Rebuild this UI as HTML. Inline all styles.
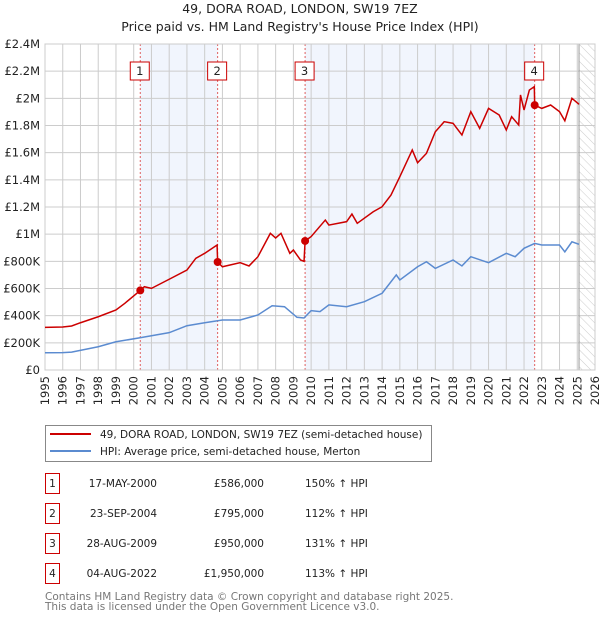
<!DOCTYPE html>
<html><head><meta charset="utf-8"><style>
body{margin:0;background:#fff;font-family:"DejaVu Sans","Liberation Sans",sans-serif;}
svg{display:block}
</style></head><body>
<svg width="600" height="620" viewBox="0 0 600 620" xmlns="http://www.w3.org/2000/svg" font-family="DejaVu Sans, Liberation Sans, sans-serif">
<g id="chart"></g>
</svg>
<script>
const years=[1995,1996,1996.5,1997,1998,1999,1999.5,2000.37,2000.6,2001,2002,2003,2003.5,2004,2004.7,2004.73,2005,2006,2006.5,2007,2007.7,2008,2008.3,2008.8,2009,2009.4,2009.6,2009.66,2010,2010.8,2011,2012,2012.3,2012.6,2013.5,2014,2014.5,2015,2015.7,2016,2016.5,2017,2017.5,2018,2018.5,2019,2019.5,2020,2020.6,2021,2021.3,2021.7,2021.8,2022,2022.3,2022.58,2022.6,2023,2023.5,2024,2024.3,2024.7,2025.1];
const priceSeries=[314,317,324,348,392,442,491,586,613,601,668,736,822,859,920,795,760,790,766,834,1006,972,1006,859,883,810,800,950,982,1104,1067,1092,1148,1080,1165,1202,1288,1423,1620,1526,1595,1754,1828,1816,1730,1902,1779,1926,1877,1767,1865,1804,2025,1914,2061,2086,1950,1926,1951,1902,1835,2000,1956];
const hpiYears=[1995,1996,1996.5,1998,1999,2000.4,2001,2002,2003,2004,2005,2006,2007,2007.8,2008.5,2009.2,2009.6,2010,2010.5,2011,2012,2013,2014,2014.8,2015,2016,2016.5,2017,2018,2018.5,2019,2020,2021,2021.5,2022,2022.6,2023,2024,2024.3,2024.7,2025.1];
const hpiSeries=[127,128,132,171,208,238,252,275,326,348,368,368,405,473,466,388,383,437,430,479,466,503,565,700,663,760,797,748,810,766,834,790,859,834,896,932,920,920,870,944,925];
const yTicks=[0,200,400,600,800,1000,1200,1400,1600,1800,2000,2200,2400];
const yTickLabels=["£0","£200K","£400K","£600K","£800K","£1M","£1.2M","£1.4M","£1.6M","£1.8M","£2M","£2.2M","£2.4M"];
const saleYears=[2000.37,2004.73,2009.66,2022.6];
const salePrices=[586,795,950,1950];
const saleLabels=["1","2","3","4"];
const NS="http://www.w3.org/2000/svg";
const X0=45,X1=595,Y0=370,Y1=44;
const xs=y=>X0+(y-1995)*(X1-X0)/31;
const ys=v=>Y0-v*(Y0-Y1)/2400;
const g=document.getElementById('chart');
function mk(t,a,p){const e=document.createElementNS(NS,t);for(const k in a)e.setAttribute(k,a[k]);(p||g).appendChild(e);return e;}
function txt(s,a){const e=mk('text',a);e.textContent=s;return e;}
let t1=txt("49, DORA ROAD, LONDON, SW19 7EZ",{x:300,y:13,'text-anchor':'middle','font-size':12.5,fill:'#222'});


let t2=txt("Price paid vs. HM Land Registry's House Price Index (HPI)",{x:300,y:31,'text-anchor':'middle','font-size':12.5,fill:'#222'});


let sh1=mk('rect',{x:xs(saleYears[0]),y:Y1,width:xs(saleYears[1])-xs(saleYears[0]),height:Y0-Y1,fill:'#eef3fc',opacity:0.8});


let sh2=mk('rect',{x:xs(saleYears[2]),y:Y1,width:xs(saleYears[3])-xs(saleYears[2]),height:Y0-Y1,fill:'#eef3fc',opacity:0.8});


const defs=mk('defs',{});
const pat=mk('pattern',{id:'hatch',width:6,height:6,patternUnits:'userSpaceOnUse',patternTransform:'rotate(-45)'},defs);
mk('line',{x1:0,y1:0,x2:0,y2:6,stroke:'#ccc','stroke-width':1},pat);
let hx=xs(2025.1);
let hr=mk('rect',{x:hx,y:Y1,width:X1-hx,height:Y0-Y1,fill:'url(#hatch)'});


for(let yr=1995;yr<=2026;yr++){
 let l=mk('line',{x1:xs(yr),x2:xs(yr),y1:Y1,y2:Y0,stroke:'#ccc','stroke-width':1});
 
 
 let tx=xs(yr)+4, ty=376;
 let tl=txt(String(yr),{x:tx,y:ty,'text-anchor':'end','font-size':11.5,fill:'#222',transform:`rotate(-90 ${tx} ${ty})`});
 
 
}
yTicks.forEach((v,i)=>{
 let l=mk('line',{x1:X0,x2:X1,y1:ys(v),y2:ys(v),stroke:'#ccc','stroke-width':1});
 
 
 let tl=txt(yTickLabels[i],{x:40,y:ys(v)+4,'text-anchor':'end','font-size':11.5,fill:'#222'});
 
 
});
let vl=mk('line',{x1:hx,x2:hx,y1:Y1,y2:Y0,stroke:'#999','stroke-width':1});


saleYears.forEach((yr,i)=>{
 let l=mk('line',{x1:xs(yr),x2:xs(yr),y1:Y1,y2:Y0,stroke:'#e06060','stroke-width':1,'stroke-dasharray':'2,2'});
 
 
 let b=mk('rect',{x:xs(yr)-10,y:62,width:19,height:18,fill:'#fff',stroke:'#c00','stroke-width':1});
 
 
 let tl=txt(saleLabels[i],{x:xs(yr)-0.5,y:75,'text-anchor':'middle','font-size':11.5,fill:'#222'});
 
 
});
let bd=mk('rect',{x:X0,y:Y1,width:X1-X0,height:Y0-Y1,fill:'none',stroke:'#ccc'});


let hp=mk('polyline',{points:hpiYears.map((y,i)=>xs(y)+','+ys(hpiSeries[i])).join(' '),fill:'none',stroke:'#5b8bd0','stroke-width':1.5});


let pp=mk('polyline',{points:years.map((y,i)=>xs(y)+','+ys(priceSeries[i])).join(' '),fill:'none',stroke:'#cc0000','stroke-width':1.5});


saleYears.forEach((yr,i)=>{
 let c=mk('circle',{cx:xs(yr),cy:ys(salePrices[i]),r:4,fill:'#cc0000'});
 
 
});
let lg=mk('rect',{x:45.5,y:425.5,width:386,height:36,fill:'#fff',stroke:'#888'});


mk('line',{x1:50,x2:91,y1:434,y2:434,stroke:'#cc0000','stroke-width':2});
let le1=txt("49, DORA ROAD, LONDON, SW19 7EZ (semi-detached house)",{x:100,y:438,'font-size':10.5,fill:'#222'});


mk('line',{x1:50,x2:91,y1:451,y2:451,stroke:'#5b8bd0','stroke-width':2});
let le2=txt("HPI: Average price, semi-detached house, Merton",{x:100,y:455,'font-size':10.5,fill:'#222'});


const dates=["17-MAY-2000","23-SEP-2004","28-AUG-2009","04-AUG-2022"];
const prices=["£586,000","£795,000","£950,000","£1,950,000"];
const pcts=["150% ↑ HPI","112% ↑ HPI","131% ↑ HPI","113% ↑ HPI"];
dates.forEach((d,i)=>{
 const cy=483+i*30;
 let b=mk('rect',{x:45.5,y:cy-9.5,width:14,height:20,fill:'#fff',stroke:'#c00'});
 
 
 let n=txt(saleLabels[i],{x:52.5,y:cy+4,'text-anchor':'middle','font-size':10.5,fill:'#222'});
 
 
 let dt=txt(d,{x:157,y:cy+4,'text-anchor':'end','font-size':10.5,fill:'#222'});
 
 
 let pr=txt(prices[i],{x:264,y:cy+4,'text-anchor':'end','font-size':10.5,fill:'#222'});
 
 
 let pc=txt(pcts[i],{x:305,y:cy+4,'font-size':10.5,fill:'#222'});
 
 
});
let f1=txt("Contains HM Land Registry data © Crown copyright and database right 2025.",{x:45,y:600,'font-size':10.5,fill:'#777'});


let f2=txt("This data is licensed under the Open Government Licence v3.0.",{x:45,y:610,'font-size':10.5,fill:'#777'});


</script>
</body></html>
